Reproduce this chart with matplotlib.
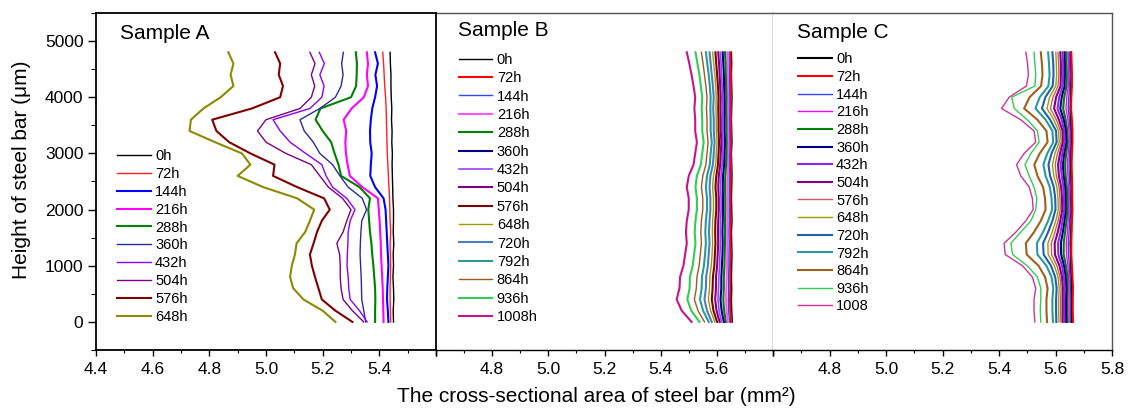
import matplotlib
matplotlib.use('Agg')
import matplotlib.pyplot as plt
from matplotlib.ticker import MultipleLocator

plt.rcParams['font.family'] = ['Liberation Sans', 'DejaVu Sans']

# ---------------- data ----------------
heights = list(range(0, 4801, 200))   # height of steel bar (um), 0..4800

# Sample A
labels_A = ['0h', '72h', '144h', '216h', '288h', '360h', '432h', '504h', '576h', '648h']
A_0h   = [5.450, 5.449, 5.451, 5.450, 5.448, 5.450, 5.449, 5.451, 5.449, 5.450, 5.450, 5.448, 5.447,
          5.446, 5.445, 5.446, 5.444, 5.445, 5.443, 5.444, 5.442, 5.441, 5.441, 5.439, 5.438]
A_72h  = [5.440, 5.439, 5.438, 5.438, 5.439, 5.440, 5.439, 5.438, 5.440, 5.438, 5.437, 5.436, 5.434,
          5.432, 5.430, 5.428, 5.427, 5.426, 5.425, 5.424, 5.422, 5.419, 5.417, 5.415, 5.412]
A_144h = [5.432, 5.430, 5.427, 5.428, 5.430, 5.432, 5.430, 5.428, 5.426, 5.424, 5.422, 5.415, 5.385,
          5.368, 5.370, 5.373, 5.368, 5.367, 5.370, 5.375, 5.385, 5.392, 5.386, 5.395, 5.385]
A_216h = [5.415, 5.414, 5.413, 5.412, 5.410, 5.408, 5.406, 5.405, 5.403, 5.401, 5.398, 5.395, 5.340,
          5.296, 5.288, 5.282, 5.280, 5.283, 5.274, 5.302, 5.345, 5.360, 5.356, 5.360, 5.356]
A_288h = [5.385, 5.385, 5.386, 5.385, 5.382, 5.379, 5.375, 5.372, 5.367, 5.364, 5.361, 5.367, 5.330,
          5.265, 5.256, 5.242, 5.230, 5.200, 5.175, 5.192, 5.300, 5.318, 5.320, 5.321, 5.317]
A_360h = [5.352, 5.345, 5.338, 5.337, 5.336, 5.334, 5.332, 5.333, 5.335, 5.338, 5.355, 5.340, 5.290,
          5.261, 5.235, 5.190, 5.167, 5.135, 5.120, 5.190, 5.245, 5.265, 5.272, 5.267, 5.273]
A_432h = [5.357, 5.330, 5.297, 5.292, 5.290, 5.286, 5.287, 5.289, 5.290, 5.297, 5.314, 5.285, 5.235,
          5.212, 5.197, 5.140, 5.085, 5.050, 5.025, 5.155, 5.197, 5.205, 5.190, 5.206, 5.188]
A_504h = [5.345, 5.305, 5.272, 5.265, 5.262, 5.262, 5.260, 5.250, 5.272, 5.285, 5.300, 5.270, 5.220,
          5.190, 5.160, 5.070, 5.000, 4.970, 5.000, 5.120, 5.160, 5.172, 5.160, 5.173, 5.155]
A_576h = [5.305, 5.245, 5.197, 5.185, 5.173, 5.162, 5.155, 5.168, 5.180, 5.197, 5.225, 5.205, 5.110,
          5.025, 5.030, 4.945, 4.870, 4.825, 4.810, 4.950, 5.050, 5.060, 5.045, 5.050, 5.032]
A_648h = [5.245, 5.200, 5.132, 5.096, 5.085, 5.091, 5.102, 5.108, 5.138, 5.155, 5.170, 5.110, 4.990,
          4.900, 4.945, 4.915, 4.820, 4.730, 4.735, 4.779, 4.840, 4.885, 4.875, 4.885, 4.867]

# Sample B
labels_B = ['0h', '72h', '144h', '216h', '288h', '360h', '432h', '504h', '576h', '648h',
            '720h', '792h', '864h', '936h', '1008h']
B_0h    = [5.655, 5.653, 5.652, 5.653, 5.652, 5.653, 5.654, 5.653, 5.652, 5.654, 5.653, 5.652, 5.653,
           5.654, 5.653, 5.652, 5.654, 5.653, 5.652, 5.653, 5.654, 5.653, 5.652, 5.653, 5.652]
B_72h   = [5.650, 5.648, 5.647, 5.648, 5.648, 5.648, 5.649, 5.649, 5.649, 5.649, 5.649, 5.649, 5.649,
           5.649, 5.650, 5.650, 5.650, 5.650, 5.650, 5.650, 5.650, 5.650, 5.650, 5.649, 5.649]
B_144h  = [5.645, 5.642, 5.641, 5.642, 5.642, 5.643, 5.643, 5.644, 5.643, 5.644, 5.644, 5.644, 5.644,
           5.644, 5.645, 5.646, 5.646, 5.646, 5.646, 5.646, 5.646, 5.645, 5.645, 5.644, 5.644]
B_216h  = [5.639, 5.635, 5.633, 5.634, 5.635, 5.636, 5.637, 5.637, 5.637, 5.637, 5.638, 5.638, 5.637,
           5.638, 5.640, 5.640, 5.641, 5.640, 5.640, 5.640, 5.640, 5.640, 5.639, 5.638, 5.637]
B_288h  = [5.632, 5.626, 5.623, 5.625, 5.625, 5.627, 5.628, 5.629, 5.629, 5.629, 5.630, 5.630, 5.629,
           5.630, 5.633, 5.634, 5.635, 5.634, 5.634, 5.633, 5.634, 5.633, 5.632, 5.631, 5.629]
B_360h  = [5.625, 5.617, 5.613, 5.616, 5.616, 5.618, 5.620, 5.621, 5.620, 5.621, 5.622, 5.622, 5.621,
           5.622, 5.626, 5.627, 5.629, 5.627, 5.627, 5.627, 5.627, 5.626, 5.625, 5.623, 5.621]
B_432h  = [5.617, 5.608, 5.604, 5.606, 5.607, 5.610, 5.611, 5.613, 5.612, 5.613, 5.615, 5.615, 5.613,
           5.615, 5.619, 5.621, 5.622, 5.621, 5.621, 5.620, 5.621, 5.619, 5.617, 5.615, 5.613]
B_504h  = [5.610, 5.599, 5.594, 5.597, 5.597, 5.601, 5.603, 5.605, 5.604, 5.605, 5.607, 5.607, 5.605,
           5.607, 5.612, 5.614, 5.616, 5.614, 5.614, 5.613, 5.614, 5.612, 5.610, 5.608, 5.605]
B_576h  = [5.601, 5.588, 5.582, 5.585, 5.586, 5.591, 5.593, 5.595, 5.594, 5.595, 5.598, 5.598, 5.595,
           5.598, 5.604, 5.606, 5.608, 5.606, 5.606, 5.605, 5.606, 5.604, 5.601, 5.598, 5.595]
B_648h  = [5.593, 5.578, 5.570, 5.574, 5.575, 5.580, 5.583, 5.585, 5.584, 5.585, 5.588, 5.588, 5.585,
           5.588, 5.596, 5.598, 5.601, 5.598, 5.598, 5.597, 5.598, 5.596, 5.593, 5.589, 5.585]
B_720h  = [5.582, 5.565, 5.556, 5.561, 5.562, 5.568, 5.571, 5.574, 5.572, 5.574, 5.577, 5.577, 5.574,
           5.577, 5.586, 5.589, 5.592, 5.589, 5.589, 5.587, 5.589, 5.586, 5.582, 5.578, 5.574]
B_792h  = [5.571, 5.551, 5.540, 5.546, 5.547, 5.554, 5.558, 5.561, 5.559, 5.561, 5.565, 5.565, 5.561,
           5.565, 5.575, 5.578, 5.582, 5.578, 5.578, 5.577, 5.578, 5.575, 5.571, 5.566, 5.561]
B_864h  = [5.556, 5.533, 5.520, 5.527, 5.529, 5.537, 5.541, 5.545, 5.543, 5.545, 5.550, 5.550, 5.545,
           5.550, 5.561, 5.565, 5.569, 5.565, 5.565, 5.563, 5.565, 5.561, 5.556, 5.551, 5.545]
B_936h  = [5.538, 5.509, 5.495, 5.503, 5.504, 5.514, 5.519, 5.524, 5.521, 5.524, 5.529, 5.529, 5.524,
           5.529, 5.543, 5.548, 5.553, 5.548, 5.548, 5.546, 5.548, 5.543, 5.538, 5.531, 5.524]
B_1008h = [5.510, 5.475, 5.457, 5.467, 5.469, 5.481, 5.487, 5.493, 5.490, 5.493, 5.500, 5.500, 5.493,
           5.500, 5.517, 5.523, 5.529, 5.523, 5.523, 5.520, 5.523, 5.517, 5.510, 5.502, 5.493]

# Sample C
labels_C = ['0h', '72h', '144h', '216h', '288h', '360h', '432h', '504h', '576h', '648h',
            '720h', '792h', '864h', '936h', '1008']
C_0h    = [5.657, 5.656, 5.657, 5.655, 5.656, 5.655, 5.654, 5.653, 5.655, 5.656, 5.654, 5.655, 5.656,
           5.655, 5.654, 5.655, 5.656, 5.655, 5.654, 5.653, 5.654, 5.655, 5.656, 5.655, 5.654]
C_72h   = [5.662, 5.661, 5.661, 5.662, 5.660, 5.658, 5.656, 5.656, 5.657, 5.658, 5.660, 5.659, 5.659,
           5.658, 5.657, 5.658, 5.660, 5.660, 5.658, 5.655, 5.656, 5.658, 5.658, 5.657, 5.656]
C_144h  = [5.652, 5.652, 5.652, 5.652, 5.651, 5.649, 5.646, 5.645, 5.648, 5.650, 5.652, 5.651, 5.651,
           5.649, 5.648, 5.650, 5.652, 5.652, 5.649, 5.645, 5.647, 5.650, 5.651, 5.650, 5.650]
C_216h  = [5.648, 5.648, 5.648, 5.648, 5.647, 5.644, 5.639, 5.638, 5.642, 5.645, 5.647, 5.647, 5.646,
           5.644, 5.642, 5.645, 5.648, 5.648, 5.644, 5.637, 5.640, 5.645, 5.646, 5.646, 5.645]
C_288h  = [5.643, 5.642, 5.642, 5.643, 5.642, 5.637, 5.629, 5.629, 5.634, 5.639, 5.642, 5.642, 5.640,
           5.636, 5.634, 5.638, 5.643, 5.642, 5.636, 5.627, 5.631, 5.639, 5.640, 5.639, 5.639]
C_360h  = [5.637, 5.637, 5.637, 5.638, 5.636, 5.630, 5.620, 5.619, 5.626, 5.632, 5.636, 5.636, 5.634,
           5.629, 5.626, 5.631, 5.638, 5.637, 5.629, 5.617, 5.622, 5.632, 5.633, 5.633, 5.632]
C_432h  = [5.632, 5.631, 5.631, 5.633, 5.630, 5.623, 5.610, 5.609, 5.618, 5.625, 5.631, 5.630, 5.628,
           5.622, 5.618, 5.624, 5.633, 5.631, 5.622, 5.607, 5.613, 5.626, 5.627, 5.627, 5.625]
C_504h  = [5.625, 5.625, 5.625, 5.626, 5.623, 5.614, 5.598, 5.597, 5.608, 5.617, 5.624, 5.623, 5.620,
           5.612, 5.609, 5.616, 5.626, 5.625, 5.612, 5.595, 5.602, 5.618, 5.619, 5.619, 5.617]
C_576h  = [5.619, 5.618, 5.618, 5.620, 5.616, 5.605, 5.586, 5.585, 5.598, 5.609, 5.617, 5.616, 5.613,
           5.603, 5.599, 5.607, 5.620, 5.618, 5.603, 5.582, 5.591, 5.609, 5.612, 5.611, 5.609]
C_648h  = [5.612, 5.611, 5.611, 5.613, 5.609, 5.596, 5.574, 5.573, 5.588, 5.601, 5.610, 5.609, 5.605,
           5.594, 5.589, 5.598, 5.613, 5.611, 5.594, 5.570, 5.579, 5.601, 5.604, 5.603, 5.601]
C_720h  = [5.603, 5.602, 5.602, 5.604, 5.599, 5.584, 5.558, 5.556, 5.574, 5.589, 5.600, 5.599, 5.594,
           5.581, 5.575, 5.586, 5.604, 5.602, 5.581, 5.552, 5.564, 5.590, 5.593, 5.592, 5.589]
C_792h  = [5.591, 5.589, 5.589, 5.592, 5.586, 5.568, 5.536, 5.534, 5.556, 5.574, 5.588, 5.586, 5.580,
           5.565, 5.557, 5.571, 5.592, 5.589, 5.565, 5.529, 5.544, 5.575, 5.579, 5.577, 5.574]
C_864h  = [5.570, 5.568, 5.568, 5.572, 5.563, 5.540, 5.498, 5.495, 5.524, 5.548, 5.565, 5.563, 5.556,
           5.536, 5.525, 5.544, 5.572, 5.568, 5.536, 5.489, 5.508, 5.549, 5.554, 5.552, 5.548]
C_936h  = [5.548, 5.546, 5.548, 5.548, 5.536, 5.500, 5.448, 5.442, 5.477, 5.513, 5.530, 5.534, 5.524,
           5.507, 5.492, 5.513, 5.542, 5.536, 5.500, 5.454, 5.445, 5.527, 5.530, 5.527, 5.524]
C_1008  = [5.527, 5.524, 5.524, 5.530, 5.518, 5.483, 5.422, 5.418, 5.460, 5.495, 5.521, 5.518, 5.507,
           5.477, 5.462, 5.489, 5.530, 5.524, 5.477, 5.409, 5.436, 5.497, 5.504, 5.501, 5.495]

series_A = [A_0h, A_72h, A_144h, A_216h, A_288h, A_360h, A_432h, A_504h, A_576h, A_648h]
series_B = [B_0h, B_72h, B_144h, B_216h, B_288h, B_360h, B_432h, B_504h, B_576h, B_648h,
            B_720h, B_792h, B_864h, B_936h, B_1008h]
series_C = [C_0h, C_72h, C_144h, C_216h, C_288h, C_360h, C_432h, C_504h, C_576h, C_648h,
            C_720h, C_792h, C_864h, C_936h, C_1008]

xticks_A = [4.4, 4.6, 4.8, 5.0, 5.2, 5.4, 5.6]
xlabels_A = ['4.4', '4.6', '4.8', '5.0', '5.2', '5.4', '']
xticks_BC = [4.6, 4.8, 5.0, 5.2, 5.4, 5.6, 5.8]
xlabels_B = ['', '4.8', '5.0', '5.2', '5.4', '5.6', '']
xlabels_C = ['', '4.8', '5.0', '5.2', '5.4', '5.6', '5.8']
yticks = [0, 1000, 2000, 3000, 4000, 5000]

# ---------------- styles ----------------
colors_A = ['#000000', '#FF2020', '#0000FF', '#FF00FF', '#008000', '#2B2B9E',
            '#8B00FF', '#800080', '#800000', '#8B8B00']
lw_A = [1.0, 1.0, 1.5, 1.5, 1.5, 1.0, 1.0, 1.0, 1.5, 1.5]
colors_B = ['#000000', '#FF0000', '#3344FF', '#FF55FF', '#008000', '#000080',
            '#A040FF', '#800080', '#800000', '#9A9A00', '#4A7EC0', '#2A9A9A',
            '#9C5A20', '#33CC55', '#C71585']
lw_B = [1.0, 1.5, 1.0, 1.5, 1.5, 1.5, 1.2, 1.5, 1.5, 1.0, 1.5, 1.5, 1.0, 1.5, 1.5]
colors_C = ['#000000', '#FF0000', '#3344FF', '#FF00FF', '#008000', '#000080',
            '#8A2BE2', '#800080', '#C06060', '#A09A00', '#1F5FB0', '#2A9A9A',
            '#A0601A', '#33CC55', '#CC3399']
lw_C = [1.5, 1.5, 1.0, 1.0, 1.5, 1.5, 1.5, 1.5, 1.0, 1.0, 1.5, 1.5, 1.5, 1.0, 1.0]

W, H = 1129, 413
fig = plt.figure(figsize=(W / 100, H / 100), dpi=100)

bottom_px, top_px = 350, 13
def ax_rect(l, r):
    return [l / W, 1 - bottom_px / H, (r - l) / W, (bottom_px - top_px) / H]

axA = fig.add_axes(ax_rect(96, 436))
axB = fig.add_axes(ax_rect(436, 773))
axC = fig.add_axes(ax_rect(773, 1112))

panels = [
    (axA, series_A, labels_A, colors_A, lw_A, (4.4, 5.6), xticks_A, xlabels_A, 'Sample A',
     (0.07, 0.938), (0.062, 0.597), 0.27),
    (axB, series_B, labels_B, colors_B, lw_B, (4.6, 5.8), xticks_BC, xlabels_B, 'Sample B',
     (0.065, 0.947), (0.068, 0.882), 0.30),
    (axC, series_C, labels_C, colors_C, lw_C, (4.6, 5.8), xticks_BC, xlabels_C, 'Sample C',
     (0.071, 0.941), (0.074, 0.883), 0.25),
]

for i, (ax, series, labels, cols, lws, xlim, xt, xl, title, tpos, lpos, lsp) in enumerate(panels):
    for vals, lab, c, lw in zip(series, labels, cols, lws):
        ax.plot(vals, heights, color=c, lw=lw, label=lab)
    ax.set_xlim(*xlim)
    ax.set_ylim(-500, 5500)
    ax.set_xticks(xt)
    ax.set_xticklabels(xl)
    ax.xaxis.set_minor_locator(MultipleLocator(0.1))
    ax.tick_params(axis='x', which='major', direction='out', length=4, width=1.0,
                   labelsize=12.5, pad=5, top=False)
    ax.tick_params(axis='x', which='minor', direction='out', length=2.5, width=0.8, top=False)
    if i == 0:
        ax.set_yticks(yticks)
        ax.yaxis.set_minor_locator(MultipleLocator(500))
        ax.tick_params(axis='y', which='major', direction='out', length=6, width=1.0,
                       labelsize=12.5, pad=3, right=False)
        ax.tick_params(axis='y', which='minor', direction='out', length=3.5, width=0.8, right=False)
        for s in ax.spines.values():
            s.set_color('black')
            s.set_linewidth(1.3)
    else:
        ax.set_yticks([])
        for name, s in ax.spines.items():
            s.set_color('#555555')
            s.set_linewidth(1.0)
        ax.spines['bottom'].set_color('black')
        ax.spines['left'].set_visible(False)
    ax.text(tpos[0], tpos[1], title, transform=ax.transAxes, fontsize=15,
            ha='left', va='center')
    ax.legend(loc='upper left', bbox_to_anchor=lpos, frameon=False, fontsize=10.5,
              handlelength=2.3, handletextpad=0.3, labelspacing=lsp, borderpad=0,
              borderaxespad=0)

axA.set_zorder(3)

fig.text(22 / W, 1 - 170 / H, 'Height of steel bar (μm)', rotation=90, fontsize=15,
         ha='center', va='center')
fig.text(596 / W, 1 - 397 / H, 'The cross-sectional area of steel bar (mm²)', fontsize=15,
         ha='center', va='center')

fig.savefig('out.png', dpi=100)
